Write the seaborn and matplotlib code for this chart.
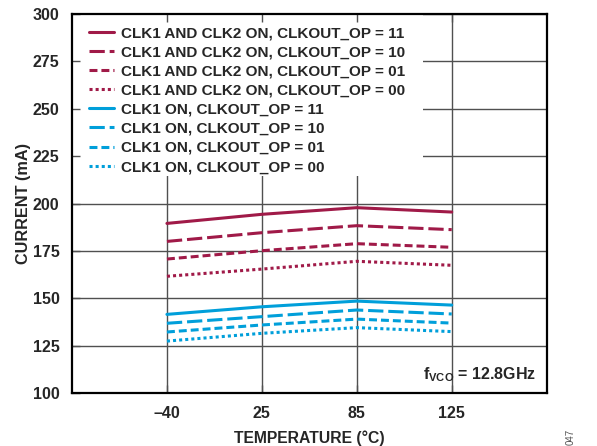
import pandas as pd
import matplotlib
matplotlib.use("Agg")
import matplotlib.pyplot as plt
from matplotlib.patches import Rectangle
import seaborn as sns

temps = ["–40", "25", "85", "125"]

series_labels = [
    "CLK1 AND CLK2 ON, CLKOUT_OP = 11",
    "CLK1 AND CLK2 ON, CLKOUT_OP = 10",
    "CLK1 AND CLK2 ON, CLKOUT_OP = 01",
    "CLK1 AND CLK2 ON, CLKOUT_OP = 00",
    "CLK1 ON, CLKOUT_OP = 11",
    "CLK1 ON, CLKOUT_OP = 10",
    "CLK1 ON, CLKOUT_OP = 01",
    "CLK1 ON, CLKOUT_OP = 00",
]

both_11 = [189.5, 194.3, 197.8, 195.5]
both_10 = [180.0, 184.6, 188.3, 186.2]
both_01 = [170.7, 175.1, 178.8, 176.9]
both_00 = [161.6, 165.4, 169.5, 167.4]
clk1_11 = [141.5, 145.5, 148.5, 146.4]
clk1_10 = [136.8, 140.3, 143.8, 141.7]
clk1_01 = [132.2, 135.9, 139.0, 136.9]
clk1_00 = [127.4, 131.5, 134.5, 132.4]

all_values = [both_11, both_10, both_01, both_00, clk1_11, clk1_10, clk1_01, clk1_00]

MAROON = "#a01a48"
BLUE = "#009fda"
GRID = "#505050"


def set_style():
    sns.set_theme(style="white")
    plt.rcParams['font.family'] = ['Liberation Sans', 'DejaVu Sans']
    plt.rcParams['font.weight'] = 'bold'
    plt.rcParams['mathtext.fontset'] = 'custom'
    plt.rcParams['mathtext.rm'] = 'Liberation Sans:bold'
    plt.rcParams['mathtext.it'] = 'Liberation Sans:bold'
    plt.rcParams['mathtext.bf'] = 'Liberation Sans:bold'


def build_frame():
    rows = []
    for label, vals in zip(series_labels, all_values):
        for i, v in enumerate(vals):
            rows.append({"pos": i + 1, "current": v, "series": label})
    return pd.DataFrame(rows)


def run_and_plot():
    set_style()
    df = build_frame()

    palette = {lab: (MAROON if i < 4 else BLUE) for i, lab in enumerate(series_labels)}
    styles = ["", (5, 1.6), (2.6, 1.3), (1, 1)]
    dashes = {lab: styles[i % 4] for i, lab in enumerate(series_labels)}

    fig = plt.figure(figsize=(5.97, 4.46), dpi=100)
    ax = fig.add_axes([0.1206, 0.1188, 0.7951, 0.8498])

    sns.lineplot(data=df, x="pos", y="current", hue="series", style="series",
                 palette=palette, dashes=dashes, linewidth=2.2, sort=False,
                 legend=False, ax=ax, zorder=3)

    ax.set_xlim(0, 5)
    ax.set_ylim(100, 300)
    ax.set_xticks(range(1, len(temps) + 1))
    ax.set_xticklabels(temps)
    ax.set_yticks(range(100, 301, 25))

    # grid drawn by hand so the legend box can hide it but not the ticks
    for xv in ax.get_xticks():
        ax.axvline(xv, color=GRID, linewidth=1.0, zorder=0.8)
    for yv in ax.get_yticks():
        ax.axhline(yv, color=GRID, linewidth=1.0, zorder=0.8)
    ax.add_patch(Rectangle((0, 0.573), 0.739, 0.427, transform=ax.transAxes,
                           facecolor="white", edgecolor="none", zorder=1))
    ax.set_axisbelow(False)

    for sp in ax.spines.values():
        sp.set_color("black")
        sp.set_linewidth(1.6)
        sp.set_zorder(4)
    ax.tick_params(axis="both", direction="in", length=6, width=1, color=GRID,
                   labelsize=11.5, top=True, bottom=True, left=True, right=False)
    ax.tick_params(axis="x", pad=9)
    ax.tick_params(axis="y", pad=9)

    ax.set_xlabel("TEMPERATURE (°C)", fontsize=11.3, fontweight="bold", labelpad=7)
    ax.set_ylabel("CURRENT (mA)", fontsize=11.7, fontweight="bold", labelpad=1)

    handles = ax.get_lines()[:len(series_labels)]
    leg = ax.legend(handles, series_labels, loc="upper left", frameon=False,
                    fontsize=11, handlelength=1.65, handletextpad=0.45,
                    labelspacing=0.335, borderaxespad=0.4,
                    bbox_to_anchor=(0.01, 1.0))
    leg.set_zorder(5)

    ax.text(0.977, 0.024, r"f$_\mathrm{VCO}$ = 12.8GHz", transform=ax.transAxes,
            ha="right", va="bottom", fontsize=11.5, fontweight="bold", zorder=5)

    fig.text(0.955, 0.0213, "047", rotation=90, fontsize=7, color="#555555",
             fontweight="normal", ha="center", va="center")

    fig.savefig("out.png", dpi=100)


if __name__ == "__main__":
    run_and_plot()
